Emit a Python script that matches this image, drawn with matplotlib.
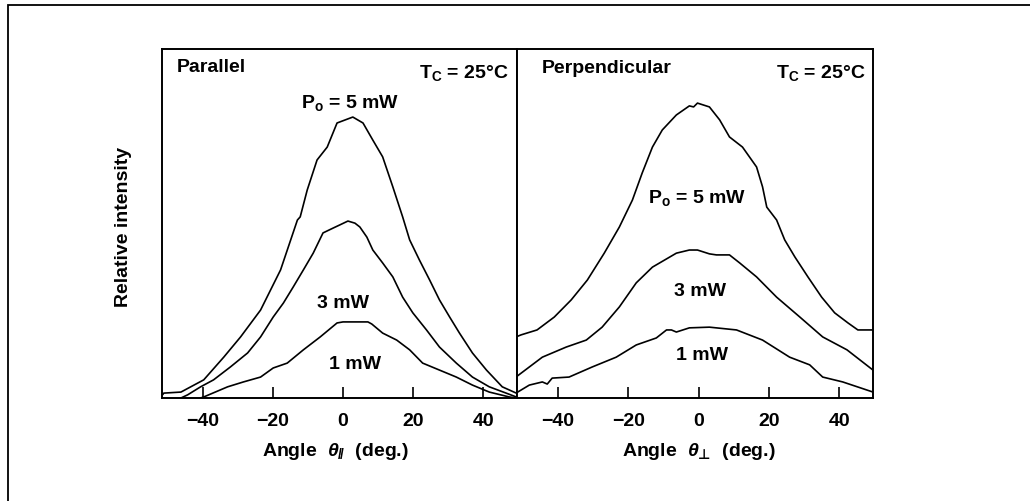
import matplotlib
matplotlib.use("Agg")
import matplotlib.pyplot as plt
from matplotlib.patches import Rectangle

plt.rcParams["font.family"] = ["Liberation Sans", "DejaVu Sans"]
plt.rcParams["font.weight"] = "bold"
plt.rcParams["mathtext.fontset"] = "custom"
plt.rcParams["mathtext.rm"] = "Liberation Sans:bold"
plt.rcParams["mathtext.it"] = "Liberation Sans:italic:bold"
plt.rcParams["mathtext.bf"] = "Liberation Sans:bold"
plt.rcParams["mathtext.sf"] = "DejaVu Sans:bold"
plt.rcParams["axes.unicode_minus"] = True

# Parallel panel (angle in deg, relative intensity 0-100)
par_5_x = [-51.3, -51.1, -46.2, -39.7, -34.0, -29.2, -23.5, -17.8, -13.0, -12.2, -10.2, -7.4,
           -4.5, -1.7, 2.0, 2.8, 5.7, 8.5, 11.3, 14.2, 17.0, 19.0, 21.8, 24.7, 27.5, 30.4,
           33.2, 36.9, 40.9, 45.4, 49.4]
par_5_y = [1.1, 1.4, 1.7, 5.2, 11.7, 17.5, 25.2, 36.7, 51.0, 51.9, 59.6, 68.2,
           71.9, 78.8, 80.2, 80.5, 78.8, 73.9, 69.1, 60.5, 51.9, 45.3, 39.5, 33.8, 28.1, 23.2,
           18.6, 12.9, 8.0, 3.2, 1.4]

par_3_x = [-46.2, -44.3, -40.6, -36.9, -32.1, -27.2, -23.5, -19.9, -17.0, -14.2, -11.3, -8.5,
           -5.7, -2.8, -0.9, 1.4, 3.4, 4.8, 6.8, 8.5, 11.3, 14.2, 17.0, 19.9, 23.8, 27.5,
           32.3, 36.9, 41.7, 46.5, 49.4]
par_3_y = [0.0, 0.9, 3.2, 5.2, 8.9, 12.9, 17.5, 23.2, 27.2, 31.8, 36.7, 41.5,
           47.3, 48.7, 49.6, 50.7, 50.1, 49.0, 46.1, 42.4, 38.7, 34.7, 28.9, 24.4, 19.5, 14.6,
           10.0, 6.0, 3.2, 1.4, 0.3]

par_1_x = [-40.6, -39.7, -32.9, -28.4, -23.5, -19.9, -15.9, -11.3, -6.5, -1.7, 0.0, 7.1, 8.2,
           11.3, 15.3, 19.0, 22.7, 27.5, 32.3, 36.9, 41.7, 47.4, 49.4]
par_1_y = [0.0, 0.3, 3.2, 4.6, 6.0, 8.6, 10.0, 13.8, 17.5, 21.5, 21.8, 21.8, 21.2,
           18.6, 16.6, 13.8, 10.0, 8.0, 6.0, 3.7, 1.7, 0.3, 0.0]

# Perpendicular panel
per_5_x = [-51.9, -50.4, -45.9, -41.0, -36.2, -31.6, -26.8, -22.5, -18.8, -16.0, -13.1, -10.3,
           -6.3, -2.6, -1.4, -0.3, 3.1, 6.0, 8.8, 12.5, 16.5, 18.2, 19.4, 22.2, 24.5, 27.4,
           31.1, 35.0, 38.7, 42.5, 45.3, 49.6]
per_5_y = [17.5, 18.1, 19.5, 23.2, 28.1, 33.8, 41.5, 49.0, 56.7, 64.5, 71.9, 76.8,
           81.1, 83.7, 83.4, 84.5, 83.4, 79.7, 74.8, 71.9, 66.2, 60.5, 54.7, 51.0, 45.3, 40.4,
           34.7, 28.9, 24.4, 21.5, 19.5, 19.5]

per_3_x = [-51.9, -44.4, -37.6, -31.9, -27.4, -22.5, -17.7, -13.1, -6.3, -2.6, -0.3, 3.1,
           5.1, 8.8, 11.7, 16.5, 22.2, 28.8, 35.3, 42.2, 49.6]
per_3_y = [6.0, 11.7, 14.6, 16.6, 20.3, 26.1, 33.0, 37.5, 41.5, 42.4, 42.4, 41.3,
           41.0, 41.0, 38.7, 34.7, 28.9, 23.2, 17.5, 13.8, 8.0]

per_1_x = [-51.9, -48.1, -44.4, -43.0, -41.6, -36.8, -30.2, -23.4, -17.7, -12.0, -9.1, -7.7,
           -6.3, -2.6, 3.1, 10.8, 18.2, 25.9, 31.6, 35.3, 41.0, 49.6]
per_1_y = [1.4, 3.7, 4.6, 4.0, 5.7, 6.0, 8.9, 11.7, 15.2, 17.2, 19.5, 19.5,
           18.9, 20.1, 20.3, 19.5, 16.6, 11.7, 9.5, 6.0, 4.6, 1.7]

xticks = [-40, -20, 0, 20, 40]

fig = plt.figure(figsize=(10.3, 5.01), dpi=100)

# outer frame of the scanned figure
fig.patches.append(Rectangle((8 / 1030, -0.1), 1.2, 1 - 5 / 501 + 0.1,
                             transform=fig.transFigure, fill=False,
                             edgecolor="black", linewidth=1.3, clip_on=False))

ax1 = fig.add_axes([162 / 1030, 1 - 398 / 501, 355 / 1030, 349 / 501])
ax2 = fig.add_axes([517 / 1030, 1 - 398 / 501, 356 / 1030, 349 / 501])

for ax, curves in [(ax1, [(par_5_x, par_5_y), (par_3_x, par_3_y), (par_1_x, par_1_y)]),
                   (ax2, [(per_5_x, per_5_y), (per_3_x, per_3_y), (per_1_x, per_1_y)])]:
    for x, y in curves:
        ax.plot(x, y, color="black", linewidth=1.2)
    ax.set_xlim(-51.6, 49.6)
    ax.set_ylim(0, 100)
    ax.set_xticks(xticks)
    ax.set_yticks([])
    ax.tick_params(axis="x", direction="in", length=8, width=1.2, pad=11,
                   labelsize=14)
    for s in ax.spines.values():
        s.set_linewidth(1.4)

ts = 14
ax1.text(0.042, 0.948, "Parallel", transform=ax1.transAxes, fontsize=ts, va="center")
ax1.text(0.975, 0.93, r"T$_\mathrm{C}$ = 25°C", transform=ax1.transAxes, fontsize=ts,
         ha="right", va="center")
ax1.text(2.0, 84.5, r"P$_\mathrm{o}$ = 5 mW", fontsize=ts, ha="center", va="center")
ax1.text(0.0, 27.2, "3 mW", fontsize=ts, ha="center", va="center")
ax1.text(3.4, 9.5, "1 mW", fontsize=ts, ha="center", va="center")

ax2.text(0.07, 0.945, "Perpendicular", transform=ax2.transAxes, fontsize=ts, va="center")
ax2.text(0.978, 0.93, r"T$_\mathrm{C}$ = 25°C", transform=ax2.transAxes, fontsize=ts,
         ha="right", va="center")
ax2.text(-0.3, 57.3, r"P$_\mathrm{o}$ = 5 mW", fontsize=ts, ha="center", va="center")
ax2.text(0.3, 30.4, "3 mW", fontsize=ts, ha="center", va="center")
ax2.text(0.9, 12.3, "1 mW", fontsize=ts, ha="center", va="center")

fig.text(335 / 1030, 1 - 452 / 501, r"Angle  $\theta_{/\!/}$  (deg.)", fontsize=ts,
         ha="center", va="center")
fig.text(699 / 1030, 1 - 452 / 501, r"Angle  $\theta_{\mathsf{⊥}}$  (deg.)", fontsize=ts,
         ha="center", va="center")
fig.text(123 / 1030, 1 - 227 / 501, "Relative intensity", fontsize=ts, rotation=90,
         ha="center", va="center")

fig.savefig("out.png", dpi=100)
